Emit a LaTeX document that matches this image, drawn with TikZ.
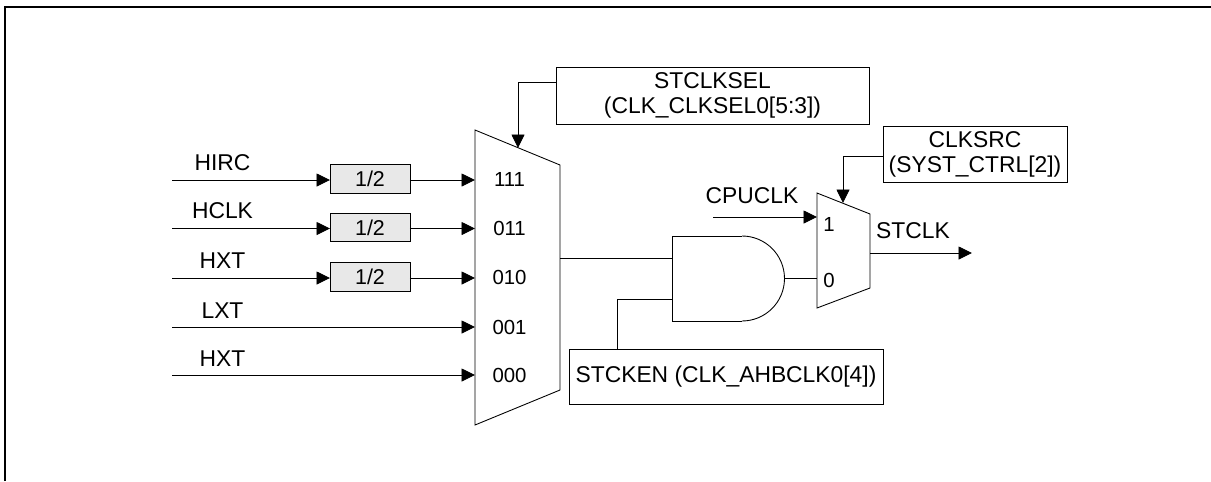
\documentclass[tikz,border=0pt]{standalone}
\usepackage{fontspec}
\setmainfont{Liberation Sans}
\usetikzlibrary{arrows.meta}
\begin{document}
\begin{tikzpicture}[
  x=0.02cm, y=-0.02cm,
  wire/.style={draw=black, line width=0.5pt},
  sig/.style={wire, -{Triangle[length=2.7mm, width=2.6mm]}},
  block/.style={wire, fill=white, rectangle, inner sep=0pt, outer sep=0pt,
                font=\fontsize{13}{14.2}\selectfont, align=center, anchor=center},
  div/.style={block, fill=black!9, minimum width=1.6cm, minimum height=0.57cm,
              font=\fontsize{12.2}{14}\selectfont},
  lbl/.style={font=\fontsize{13}{14}\selectfont, inner sep=0pt},
  pin/.style={font=\fontsize{11.6}{14}\selectfont, inner sep=0pt},
]
\useasboundingbox (0,0) rectangle (1211,481);
% Outer frame, open on the right and at the bottom
\draw[line width=1.2pt] (5,481) -- (5,7) -- (1211,7);
% Control boxes
\node[block, minimum width=6.26cm, minimum height=1.14cm] (selbox) at (712.5,95.5)
  {STCLKSEL\\(CLK\_CLKSEL0[5:3])};
\node[block, minimum width=3.68cm, minimum height=1.12cm] (srcbox) at (975,154)
  {CLKSRC\\(SYST\_CTRL[2])};
\node[block, minimum width=6.28cm, minimum height=1.1cm] (enbox) at (726,376.5)
  {STCKEN (CLK\_AHBCLK0[4])};
% Source multiplexer
\draw[wire] (475,130) -- (560,165) -- (560,390) -- (475,425) -- cycle;
\coordinate (muxin) at (518,148);
\coordinate (muxout) at (560,258);
% Inputs that go through a divider
\foreach \n/\ly/\lab/\bit/\by in {1/180/HIRC/111/179, 2/228.5/HCLK/011/228.5, 3/278/HXT/010/277.5} {
  \coordinate (in\n) at (172,\ly);
  \coordinate (pin\n) at (475,\ly);
  \node[lbl] (name\n) at (222.5,\ly-17.5) {\lab};
  \node[div] (half\n) at (370,\ly-1) {1/2};
  \node[pin] (bit\n) at (509.5,\by) {\bit};
  \draw[sig] (in\n) -- (in\n -| half\n.west);
  \draw[sig] (in\n -| half\n.east) -- (pin\n);
}
% Inputs that go straight in
\foreach \n/\ly/\lab/\bit in {4/327/LXT/001, 5/375/HXT/000} {
  \coordinate (in\n) at (172,\ly);
  \coordinate (pin\n) at (475,\ly);
  \node[lbl] (name\n) at (222.5,\ly-16.5) {\lab};
  \node[pin] (bit\n) at (509.5,\ly) {\bit};
  \draw[sig] (in\n) -- (pin\n);
}
\draw[sig] ([yshift=0.27cm]selbox.west) -| (muxin);
% AND gate
\draw[wire] (742,236) -- (672,236) -- (672,321) -- (742,321);
\draw[wire] (742,236) arc[start angle=90, end angle=-90, radius=0.85cm];
\coordinate (andina) at (672,258);
\coordinate (andinb) at (672,299);
\coordinate (andout) at (784,278);
\draw[wire] (muxout) -- (andina);
\draw[wire] (andinb) -| (enbox.north -| 617,0);
% Output multiplexer
\draw[wire] (817,193) -- (870,214) -- (870,288) -- (817,308) -- cycle;
\coordinate (oselin) at (843,203);
\coordinate (cpupin) at (817,217);
\coordinate (cpustart) at (713,217);
\coordinate (andpin) at (817,278);
\coordinate (oseldrop) at (870,253);
\coordinate (stclkend) at (972,253);
\node[pin] (one) at (829,224) {1};
\node[pin] (zero) at (829,280) {0};
\node[lbl] (cpuname) at (752,195.5) {CPUCLK};
\node[lbl] (stclkname) at (913,230.5) {STCLK};
\draw[sig] (cpustart) -- (cpupin);
\draw[wire] (andout) -- (andpin);
\draw[sig] (oseldrop) -- (stclkend);
\draw[sig] ([yshift=-0.04cm]srcbox.west) -| (oselin);
\end{tikzpicture}
\end{document}
